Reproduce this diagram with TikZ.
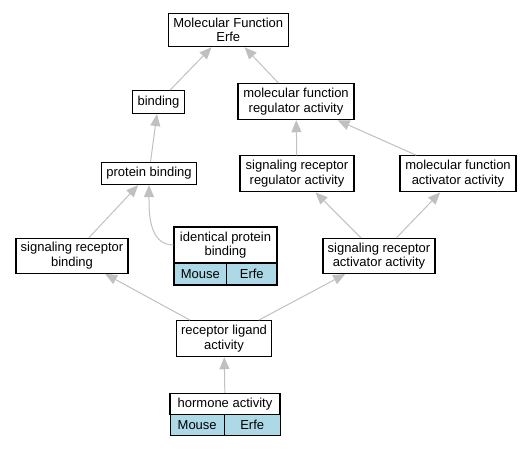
\documentclass[tikz,border=0pt]{standalone}
\usepackage{fontspec}
\setmainfont{Liberation Sans}
\usepackage{tikz}
\usetikzlibrary{arrows.meta, positioning, calc}

\definecolor{edgegray}{HTML}{C0C0C0}
\definecolor{orthoblue}{HTML}{ADD8E6}

\begin{document}
\begin{tikzpicture}[x=1pt, y=-1pt]
    \tikzstyle{term}=[rectangle, draw=black, line width=1.1pt, inner sep=0pt, align=center,
        font=\fontsize{13}{14.5}\selectfont];
    \tikzstyle{species}=[term, fill=orthoblue];
    \tikzstyle{isa}=[draw=edgegray, line width=1pt, -{Triangle[length=12pt, width=10pt]}];

    \useasboundingbox (0,0) rectangle (531,448);

    \node[term, minimum width=120pt, minimum height=33.5pt] (mf) at (228.3, 30)
    {Molecular Function\\Erfe};

    \node[term, minimum width=52pt, minimum height=23pt] (bind) at (158.5, 102) {binding};
    \node[term, minimum width=116pt, minimum height=36pt] (mfreg) at (296, 101.7)
    {molecular function\\regulator activity};

    \node[term, minimum width=95pt, minimum height=22pt] (pb) at (149, 173.5) {protein binding};
    \node[term, minimum width=114pt, minimum height=36pt] (srreg) at (297, 173.8)
    {signaling receptor\\regulator activity};
    \node[term, minimum width=116pt, minimum height=36pt] (mfact) at (458, 173.8)
    {molecular function\\activator activity};

    \node[term, minimum width=112pt, minimum height=35pt] (srbind) at (72, 255.8)
    {signaling receptor\\binding};
    \node[term, minimum width=103pt, minimum height=36pt] (ipb) at (225.5, 245)
    {identical protein\\binding};
    \node[species, minimum width=52.7pt, minimum height=22pt] (ipbmouse) at (200.3, 274) {Mouse};
    \node[species, minimum width=50.3pt, minimum height=22pt] (ipberfe) at (251.8, 274) {Erfe};
    \node[term, minimum width=112pt, minimum height=35pt] (sract) at (379, 256)
    {signaling receptor\\activator activity};

    \node[term, minimum width=95pt, minimum height=36pt] (rla) at (224, 338.7)
    {receptor ligand\\activity};

    \node[term, minimum width=110pt, minimum height=21pt] (ha) at (225, 404) {hormone activity};
    \node[species, minimum width=54.3pt, minimum height=21pt] (hamouse) at (197.2, 424.7) {Mouse};
    \node[species, minimum width=55.7pt, minimum height=21pt] (haerfe) at (252.2, 424.7) {Erfe};

    \draw[isa] (bind) -- (mf);
    \draw[isa] (mfreg) -- (mf);
    \draw[isa] (pb) -- (bind);
    \draw[isa] (srreg) -- (mfreg);
    \draw[isa] (mfact) -- (mfreg);
    \draw[isa] (srbind) -- (pb);
    \draw[isa] (ipb.west) to[out=180, in=-90] (pb.south);
    \draw[isa] (sract) -- (srreg);
    \draw[isa] (sract) -- (mfact);
    \draw[isa] (rla) -- (srbind);
    \draw[isa] (rla) -- (sract);
    \draw[isa] (ha) -- (rla);

\end{tikzpicture}
\end{document}
